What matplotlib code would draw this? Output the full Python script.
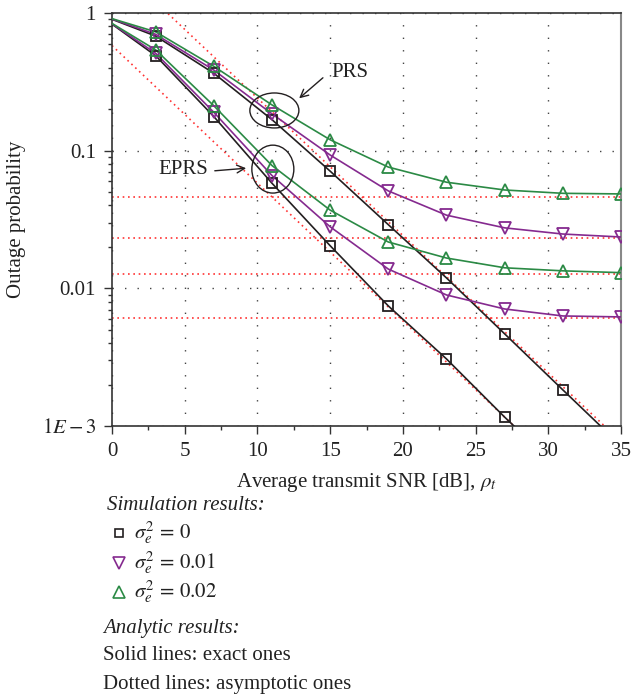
import matplotlib
matplotlib.use("Agg")
import matplotlib.pyplot as plt
from matplotlib.patches import Ellipse
from matplotlib.ticker import LogLocator, NullFormatter, FixedLocator, FixedFormatter, MultipleLocator

plt.rcParams['font.family'] = ['Liberation Serif', 'DejaVu Serif']
plt.rcParams['mathtext.fontset'] = 'stix'

# ---------------- data ----------------
x_sim = [3, 7, 11, 15, 19, 23, 27, 31, 35]
x_line = [0, 3, 7, 11, 15, 19, 23, 27, 31, 35]

# PRS (upper group)
prs_s0 = [0.90, 0.68, 0.365, 0.168, 0.071, 0.029, 0.0119, 0.00467, 0.00183, 0.00072]
prs_s1 = [0.905, 0.70, 0.385, 0.185, 0.093, 0.051, 0.034, 0.0275, 0.0248, 0.0236]
prs_s2 = [0.91, 0.73, 0.41, 0.215, 0.12, 0.076, 0.059, 0.0518, 0.049, 0.0485]
# EPRS (lower group)
eprs_s0 = [0.83, 0.49, 0.177, 0.058, 0.0204, 0.00745, 0.00307, 0.00116, 0.00046, 0.00018]
eprs_s1 = [0.835, 0.51, 0.19, 0.066, 0.028, 0.0138, 0.00895, 0.00708, 0.0063, 0.0062]
eprs_s2 = [0.84, 0.54, 0.212, 0.078, 0.037, 0.0217, 0.0166, 0.0141, 0.0134, 0.0130]

# asymptotes
asym_x = [0, 35]
prs_asym_diag = [2.4, 0.00077]
eprs_asym_diag = [0.58, 0.000184]
floors = [0.0461, 0.0232, 0.0127, 0.0061]

series_labels = [r'$\sigma_e^2\,=\,0$', r'$\sigma_e^2\,=\,0.01$', r'$\sigma_e^2\,=\,0.02$']
ytick_vals = [1e-3, 1e-2, 1e-1, 1]
ytick_labels = [r'$1E-3$', '0.01', '0.1', '1']
xtick_vals = [0, 5, 10, 15, 20, 25, 30, 35]

# ---------------- styling ----------------
c_black = '#231f20'
c_purple = '#852a8f'
c_green = '#2b8a45'
c_red = '#ff3333'
colors = [c_black, c_purple, c_green]
markers = ['s', 'v', '^']
msizes = [7.5, 9, 9]
FS = 15

fig = plt.figure(figsize=(6.33, 6.95), dpi=100)
W, H = 633, 695
ax = fig.add_axes([112 / W, 1 - 426 / H, 509 / W, 413 / H])
ax.set_yscale('log')

# asymptotic (dotted red)
ax.plot(asym_x, prs_asym_diag, color=c_red, lw=1.2, ls=(0, (1, 2.2)), zorder=2)
ax.plot(asym_x, eprs_asym_diag, color=c_red, lw=1.2, ls=(0, (1, 2.2)), zorder=2)
for f in floors:
    ax.plot(asym_x, [f, f], color=c_red, lw=1.2, ls=(0, (1, 2.2)), zorder=2)

# exact lines + simulation markers
groups = [[prs_s0, prs_s1, prs_s2], [eprs_s0, eprs_s1, eprs_s2]]
for grp in groups:
    for vals, col, mk, ms in zip(grp, colors, markers, msizes):
        ax.plot(x_line, vals, color=col, lw=1.2, zorder=3)
        ax.plot(x_sim, vals[1:], ls='none', marker=mk, ms=ms, mfc='none',
                mec=col, mew=1.3, zorder=4)

ax.set_xlim(0, 35)
ax.set_ylim(1e-3, 1)

ax.yaxis.set_major_locator(FixedLocator(ytick_vals))
ax.yaxis.set_major_formatter(FixedFormatter(ytick_labels))
ax.yaxis.set_minor_locator(LogLocator(base=10, subs=range(2, 10)))
ax.yaxis.set_minor_formatter(NullFormatter())
ax.xaxis.set_major_locator(FixedLocator(xtick_vals))
ax.xaxis.set_minor_locator(MultipleLocator(2.5))

ax.tick_params(which='major', direction='out', length=5.5, width=1, labelsize=FS,
               pad=6, colors='#333333', labelcolor='#222222')
ax.tick_params(which='minor', direction='out', length=3.2, width=1, colors='#333333')
ax.tick_params(top=False, right=False, which='both')

ax.grid(True, which='major', color='#444444', lw=1.0, ls=(0, (1, 8)))
for s in ['left', 'bottom', 'top']:
    ax.spines[s].set_color('#333333')
    ax.spines[s].set_linewidth(1.2)
ax.spines['right'].set_color('#888888')
ax.spines['right'].set_linewidth(1.5)

ax.set_ylabel('Outage probability', fontsize=FS, color='#222222', va='center')
ax.yaxis.set_label_coords(-0.187, 0.5)
ax.set_xlabel(r'Average transmit SNR [dB], $\rho_t$', fontsize=FS, color='#222222', va='center')
ax.xaxis.set_label_coords(0.5, -0.138)

# annotations: ellipses and arrows
ax.add_patch(Ellipse((0.319, 0.764), 0.0963, 0.0847, transform=ax.transAxes,
                     fill=False, ec=c_black, lw=1.0, zorder=5))
ax.add_patch(Ellipse((0.316, 0.622), 0.0825, 0.116, transform=ax.transAxes,
                     fill=False, ec=c_black, lw=1.0, zorder=5))
ax.annotate('', xy=(0.3635, 0.789), xytext=(0.4185, 0.8475), xycoords='axes fraction',
            arrowprops=dict(arrowstyle='->', color=c_black, lw=1.0, mutation_scale=14))
ax.text(0.468, 0.855, 'PRS', transform=ax.transAxes, fontsize=FS, ha='center', va='center',
        color='#222222')
ax.annotate('', xy=(0.269, 0.6247), xytext=(0.1965, 0.6174), xycoords='axes fraction',
            arrowprops=dict(arrowstyle='->', color=c_black, lw=1.0, mutation_scale=14))
ax.text(0.1395, 0.6199, 'EPRS', transform=ax.transAxes, fontsize=FS, ha='center', va='center',
        color='#222222')

# legend-like text block below axes
def fy(py):
    return 1 - py / H

def fx(px):
    return px / W

fig.text(fx(107), fy(505), 'Simulation results:', fontsize=FS, style='italic',
         ha='left', va='center', color='#222222')
row_y = [533, 563, 592]
leg_ms = [6, 8, 8]
for lab, col, mk, ms, ry in zip(series_labels, colors, markers, leg_ms, row_y):
    ax.plot([fx(119)], [fy(ry)], transform=fig.transFigure, clip_on=False, ls='none',
            marker=mk, ms=ms, mfc='none', mec=col, mew=1.2)
    fig.text(fx(134), fy(ry), lab, fontsize=FS, ha='left', va='center', color='#222222')
fig.text(fx(103), fy(628), 'Analytic results:', fontsize=FS, style='italic',
         ha='left', va='center', color='#222222')
fig.text(fx(103), fy(655), 'Solid lines: exact ones', fontsize=FS,
         ha='left', va='center', color='#222222')
fig.text(fx(103), fy(684), 'Dotted lines: asymptotic ones', fontsize=FS,
         ha='left', va='center', color='#222222')

fig.savefig('out.png', dpi=100)
